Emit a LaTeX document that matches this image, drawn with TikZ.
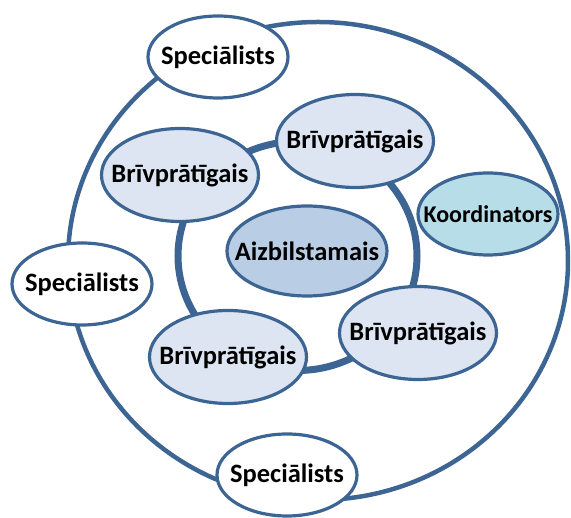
\documentclass[tikz,border=0pt]{standalone}
\usepackage{fontspec}
\setmainfont{Carlito}
\usepackage{xcolor}
\usepackage{tikz}
\usetikzlibrary{positioning,shapes.geometric}

\definecolor{edgeblue}{HTML}{3D6594}
\definecolor{brvfill}{HTML}{DCE5F1}
\definecolor{aizbfill}{HTML}{B9CDE5}
\definecolor{koordfill}{HTML}{B7DEE8}

\tikzset{
  blob/.style  = {ellipse, draw = edgeblue, line width = 3.2pt, inner sep = 0pt,
                  font = \fontsize{26.5}{30}\selectfont\bfseries,
                  execute at begin node = {\hbox to 0pt\bgroup\hss},
                  execute at end node = {\hss\egroup}},
  spec/.style  = {blob, fill = white, minimum width = 140pt, minimum height = 82pt},
  brv/.style   = {blob, fill = brvfill, minimum width = 157pt, minimum height = 93pt},
  koord/.style = {blob, fill = koordfill, minimum width = 140pt, minimum height = 82pt,
                  font = \fontsize{24}{28}\selectfont\bfseries},
  aizb/.style  = {blob, fill = aizbfill, minimum width = 160pt, minimum height = 90pt},
}

\begin{document}
\begin{tikzpicture}[on grid]
    \useasboundingbox (-307pt,251pt) rectangle (264pt,-267pt);

    \coordinate (outer) at (11pt,-10pt);
    \coordinate (inner) at (-9.5pt,-5pt);

    \draw[edgeblue, line width = 4.5pt] (outer) ellipse [x radius = 250pt, y radius = 239pt];
    \draw[edgeblue, line width = 7pt] (inner) ellipse [x radius = 119.5pt, y radius = 114.5pt];

    \node[aizb] (aizb) at (0,0) {Aizbilstamais};

    \node[brv, above right = 110pt and 48pt of aizb] (brv1) {Brīvprātīgais};
    \node[brv, above left = 76pt and 127pt of aizb] (brv2) {Brīvprātīgais};
    \node[brv, below left = 106pt and 79pt of aizb] (brv3) {Brīvprātīgais};
    \node[brv, below right = 82pt and 111pt of aizb] (brv4) {Brīvprātīgais};

    \node[koord, above right = 37pt and 181pt of aizb] (koord) {Koordinators};

    \node[spec, above left = 194pt and 89pt of aizb] (spec1) {Speciālists};
    \node[spec, below left = 33pt and 225pt of aizb] (spec2) {Speciālists};
    \node[spec, below left = 224pt and 20pt of aizb] (spec3) {Speciālists};
\end{tikzpicture}
\end{document}
